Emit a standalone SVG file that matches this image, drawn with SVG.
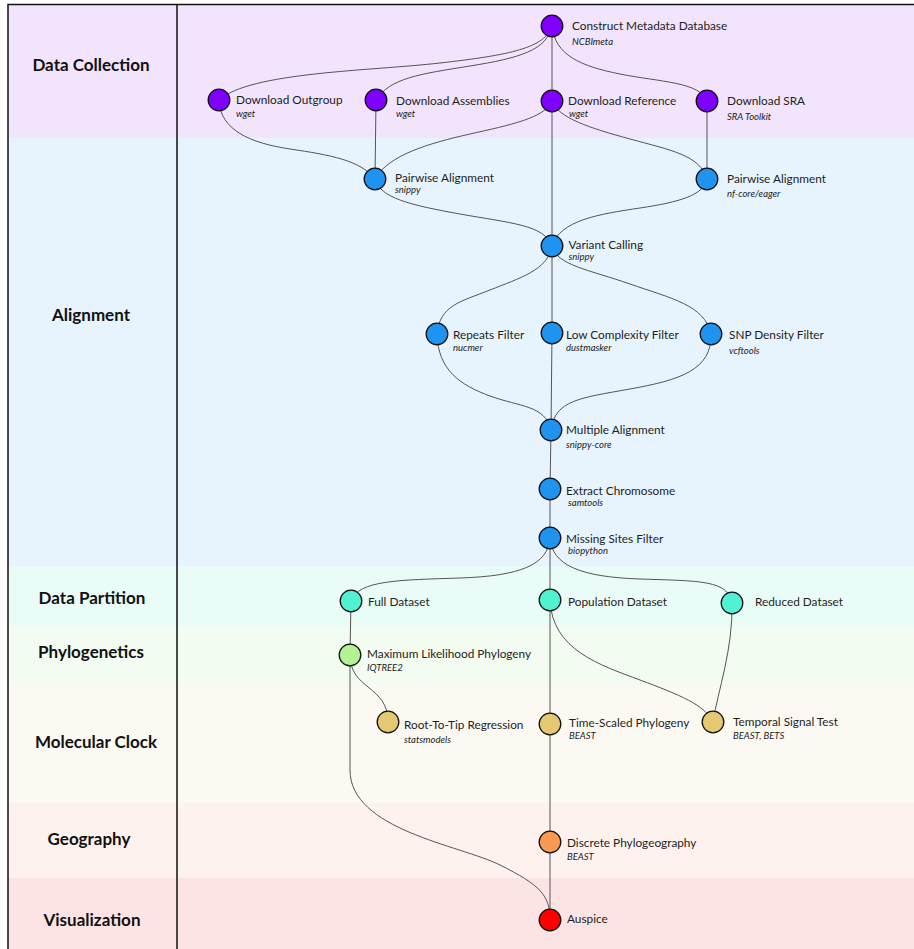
<svg xmlns="http://www.w3.org/2000/svg" width="914" height="949" viewBox="0 0 914 949">
<style>
.sec{font-family:Lato,"Open Sans","Liberation Sans",sans-serif;font-weight:bold;font-size:17px;fill:#111;text-anchor:middle}
.lb{font-family:Lato,"Open Sans","Liberation Sans",sans-serif;font-size:11.8px;fill:#1e1e1e}
.sb{font-family:Lato,"Open Sans","Liberation Sans",sans-serif;font-style:italic;font-size:9.5px;fill:#222}
.n{stroke:#111;stroke-width:1.3}
.e path{fill:none;stroke:#555;stroke-width:1}
.p{fill:#8000ff}.b{fill:#1e93f0}.t{fill:#50f2d2}.g{fill:#b2f294}.y{fill:#e6c872}.o{fill:#f89a52}.r{fill:#ff0000}
</style>
<rect width="914" height="949" fill="#fff"/>
<g id="bands">
<rect x="8" y="4" width="906" height="134" fill="#f1e4fc"/>
<rect x="8" y="138" width="906" height="428" fill="#e7f3fd"/>
<rect x="8" y="566" width="906" height="60" fill="#eafcf8"/>
<rect x="8" y="626" width="906" height="60" fill="#f3fcf0"/>
<rect x="8" y="686" width="906" height="117" fill="#fcf9f2"/>
<rect x="8" y="803" width="906" height="75" fill="#fdf2ee"/>
<rect x="8" y="878" width="906" height="71" fill="#fde4e4"/>
<path d="M8,949 V4.5 H914 M177,4.5 V949" fill="none" stroke="#111" stroke-width="1.5"/>
</g>
<g id="sections">
<text class="sec" x="91" y="71">Data Collection</text>
<text class="sec" x="91" y="321">Alignment</text>
<text class="sec" x="92" y="604">Data Partition</text>
<text class="sec" x="91" y="658">Phylogenetics</text>
<text class="sec" x="96" y="748">Molecular Clock</text>
<text class="sec" x="89" y="845">Geography</text>
<text class="sec" x="92" y="926">Visualization</text>
</g>
<g id="connectors" class="e">
<path d="M552,26 C545,48 510,55 440,63 S250,72 219,100"/>
<path d="M552,26 C547,50 520,58 470,66 S390,78 376,100"/>
<path d="M552,26 L552,101"/>
<path d="M552,26 C555,55 580,66 620,74 S700,82 707,101"/>
<path d="M219,100 C220,130 250,143 290,149 S360,160 375,179"/>
<path d="M376,100 L375,179"/>
<path d="M552,101 C545,118 510,125 470,134 S388,155 375,179"/>
<path d="M552,101 C558,118 590,128 630,139 S700,155 707,179"/>
<path d="M707,101 L707,179"/>
<path d="M552,101 L552,246"/>
<path d="M375,179 C380,198 410,205 460,214 S545,225 552,246"/>
<path d="M707,179 C704,195 680,202 640,208 S560,220 552,246"/>
<path d="M552,246 C548,270 520,278 490,290 S440,305 437,334"/>
<path d="M552,246 L552,333"/>
<path d="M552,246 C556,265 590,270 630,284 S705,305 711,334"/>
<path d="M437,334 C438,370 460,385 490,396 S545,405 551,430"/>
<path d="M552,333 L551,430"/>
<path d="M711,334 C712,370 680,380 630,389 S555,400 551,430"/>
<path d="M551,430 L550,489"/>
<path d="M550,489 L550,538"/>
<path d="M550,538 C548,565 520,576 460,578 S358,580 351,601"/>
<path d="M550,538 L550,600"/>
<path d="M550,538 C552,565 580,577 640,579 S728,580 732,603"/>
<path d="M351,601 L350,655"/>
<path d="M350,655 C350,690 388,685 388,722"/>
<path d="M350,655 L350,770 C350,830 460,845 500,865 S550,895 550,920"/>
<path d="M550,600 L550,724"/>
<path d="M550,600 C552,650 600,665 640,680 S705,705 713,722"/>
<path d="M732,603 C733,650 718,690 713,722"/>
<path d="M550,724 L550,842"/>
<path d="M550,842 L550,920"/>
</g>
<g id="construct"><circle class="n p" cx="552" cy="26" r="10.8"/><text class="lb" x="572" y="30.2">Construct Metadata Database</text><text class="sb" x="572" y="44.5">NCBImeta</text></g>
<g id="outgroup"><circle class="n p" cx="219" cy="100" r="10.8"/><text class="lb" x="236" y="103.5">Download Outgroup</text><text class="sb" x="236" y="117">wget</text></g>
<g id="assemblies"><circle class="n p" cx="376" cy="100" r="10.8"/><text class="lb" x="396" y="104.5">Download Assemblies</text><text class="sb" x="396" y="117">wget</text></g>
<g id="reference"><circle class="n p" cx="552" cy="101" r="10.8"/><text class="lb" x="568" y="104.8">Download Reference</text><text class="sb" x="569" y="117">wget</text></g>
<g id="sra"><circle class="n p" cx="707" cy="101" r="10.8"/><text class="lb" x="727" y="104.8">Download SRA</text><text class="sb" x="727" y="120">SRA Toolkit</text></g>
<g id="pairwise-snippy"><circle class="n b" cx="375" cy="179" r="10.8"/><text class="lb" x="395" y="182.2">Pairwise Alignment</text><text class="sb" x="395" y="193">snippy</text></g>
<g id="pairwise-eager"><circle class="n b" cx="707" cy="179" r="10.8"/><text class="lb" x="727" y="182.5">Pairwise Alignment</text><text class="sb" x="727" y="197">nf-core/eager</text></g>
<g id="variant"><circle class="n b" cx="552" cy="246" r="10.8"/><text class="lb" x="568.5" y="249.2">Variant Calling</text><text class="sb" x="568.5" y="260">snippy</text></g>
<g id="repeats"><circle class="n b" cx="437" cy="334" r="10.8"/><text class="lb" x="453" y="338.5">Repeats Filter</text><text class="sb" x="453" y="351">nucmer</text></g>
<g id="lowcomp"><circle class="n b" cx="552" cy="333" r="10.8"/><text class="lb" x="566" y="338.5">Low Complexity Filter</text><text class="sb" x="566" y="351">dustmasker</text></g>
<g id="snp"><circle class="n b" cx="711" cy="334" r="10.8"/><text class="lb" x="729" y="338.5">SNP Density Filter</text><text class="sb" x="729" y="354">vcftools</text></g>
<g id="multiple"><circle class="n b" cx="551" cy="430" r="10.8"/><text class="lb" x="566" y="434.2">Multiple Alignment</text><text class="sb" x="566" y="447.5">snippy-core</text></g>
<g id="extract"><circle class="n b" cx="550" cy="489" r="10.8"/><text class="lb" x="566" y="494.5">Extract Chromosome</text><text class="sb" x="568" y="505.5">samtools</text></g>
<g id="missing"><circle class="n b" cx="550" cy="538" r="10.8"/><text class="lb" x="566" y="542.5">Missing Sites Filter</text><text class="sb" x="568" y="553.5">biopython</text></g>
<g id="full"><circle class="n t" cx="351" cy="601" r="10.8"/><text class="lb" x="368" y="606.2">Full Dataset</text></g>
<g id="population"><circle class="n t" cx="550" cy="600" r="10.8"/><text class="lb" x="568" y="606.2">Population Dataset</text></g>
<g id="reduced"><circle class="n t" cx="732" cy="603" r="10.8"/><text class="lb" x="755" y="606.2">Reduced Dataset</text></g>
<g id="ml"><circle class="n g" cx="350" cy="655" r="10.8"/><text class="lb" x="367" y="657.5">Maximum Likelihood Phylogeny</text><text class="sb" x="367" y="671">IQTREE2</text></g>
<g id="rtt"><circle class="n y" cx="388" cy="722" r="10.8"/><text class="lb" x="404" y="729.2">Root-To-Tip Regression</text><text class="sb" x="404" y="742.5">statsmodels</text></g>
<g id="timescaled"><circle class="n y" cx="550" cy="724" r="10.8"/><text class="lb" x="569" y="727.2">Time-Scaled Phylogeny</text><text class="sb" x="569" y="739">BEAST</text></g>
<g id="temporal"><circle class="n y" cx="713" cy="722" r="10.8"/><text class="lb" x="733" y="725.8">Temporal Signal Test</text><text class="sb" x="733" y="739">BEAST, BETS</text></g>
<g id="discrete"><circle class="n o" cx="550" cy="842" r="10.8"/><text class="lb" x="567" y="846.5">Discrete Phylogeography</text><text class="sb" x="567" y="859.5">BEAST</text></g>
<g id="auspice"><circle class="n r" cx="550" cy="920" r="10.8"/><text class="lb" x="567" y="923.2">Auspice</text></g>
</svg>
